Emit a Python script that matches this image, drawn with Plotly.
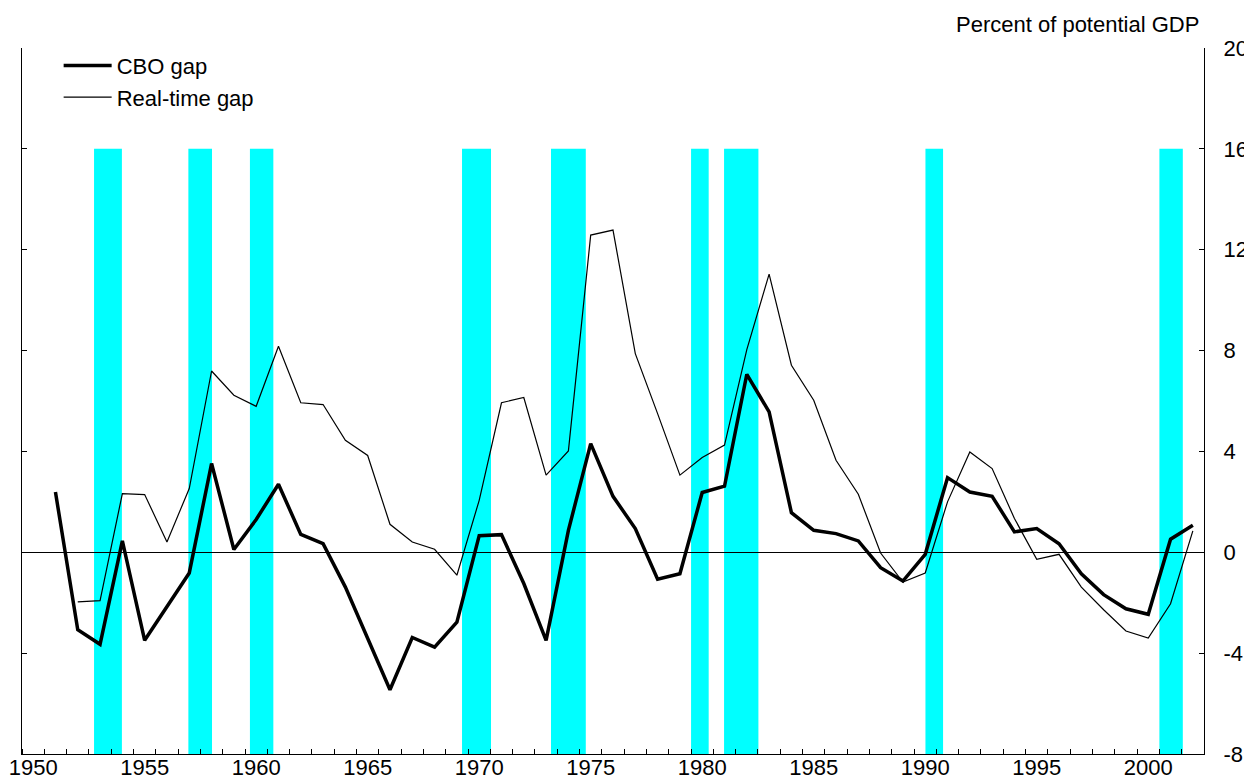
import plotly.graph_objects as go

# ---- data ----
cbo_years = list(range(1951, 2003))
cbo_gap = [2.39, -3.07, -3.65, 0.45, -3.49, -2.17, -0.82, 3.52, 0.11, 1.30,
           2.70, 0.71, 0.34, -1.38, -3.43, -5.45, -3.38, -3.76, -2.77, 0.66,
           0.70, -1.24, -3.49, 0.87, 4.31, 2.22, 0.94, -1.07, -0.85, 2.37,
           2.62, 7.06, 5.57, 1.57, 0.87, 0.74, 0.45, -0.61, -1.14, -0.08,
           2.96, 2.39, 2.22, 0.81, 0.94, 0.34, -0.85, -1.68, -2.24, -2.46,
           0.52, 1.07]

rt_years = list(range(1952, 2003))
rt_gap = [-1.97, -1.92, 2.33, 2.29, 0.41, 2.53, 7.19, 6.23, 5.79, 8.17,
          5.93, 5.86, 4.44, 3.84, 1.11, 0.41, 0.12, -0.91, 2.06, 5.93,
          6.14, 3.06, 4.02, 12.58, 12.78, 7.88, 5.50, 3.06, 3.76, 4.25,
          8.04, 11.03, 7.42, 6.03, 3.65, 2.30, -0.03, -1.18, -0.82, 2.00,
          3.98, 3.32, 1.34, -0.28, -0.08, -1.38, -2.28, -3.12, -3.40, -2.04,
          0.85]

recession_start = [1952.73, 1956.96, 1959.72, 1969.23, 1973.22, 1979.50, 1980.98, 1990.01, 2000.50]
recession_end = [1953.98, 1958.02, 1960.77, 1970.53, 1974.78, 1980.29, 1982.52, 1990.80, 2001.55]
recession_top = 16

x_tick_years = list(range(1950, 2001, 5))
y_ticks = [-8, -4, 0, 4, 8, 12, 16, 20]
y_tick_labels = ["-8", "-4", "0", "4", "8", "12", "16", "20"]

FONT = "Liberation Sans, Arial, sans-serif"

fig = go.Figure()

fig.add_trace(go.Scatter(x=cbo_years, y=cbo_gap, mode="lines", name="CBO gap",
                         line=dict(color="black", width=3.5)))
fig.add_trace(go.Scatter(x=rt_years, y=rt_gap, mode="lines", name="Real-time gap",
                         line=dict(color="black", width=1.2)))

for s, e in zip(recession_start, recession_end):
    fig.add_shape(type="rect", xref="x", yref="y", x0=s, x1=e, y0=-8, y1=recession_top,
                  fillcolor="#00FFFF", line=dict(width=0), layer="below")

fig.add_annotation(text="Percent of potential GDP", xref="paper", yref="paper",
                   x=0.9975, y=1.0326, xanchor="right", yanchor="middle",
                   showarrow=False, font=dict(size=22, color="black", family=FONT))

# page body has an 8px margin; the figure is sized so it ends at the window edge
fig.update_layout(
    width=1244, height=773,
    margin=dict(l=14, r=48, t=40, b=27),
    paper_bgcolor="white", plot_bgcolor="white",
    font=dict(family=FONT, size=22, color="black"),
    showlegend=True,
    legend=dict(x=0.031, y=1.0045, xanchor="left", yanchor="top", itemwidth=48,
                bgcolor="rgba(0,0,0,0)", font=dict(size=22), tracegroupgap=0),
    xaxis=dict(range=[1949.5, 2002.5], tickvals=x_tick_years, automargin=False,
               ticktext=[str(y) for y in x_tick_years], ticks="",
               showgrid=False, zeroline=False, showline=True, linecolor="black", linewidth=1,
               minor=dict(tick0=1949.5, dtick=1, ticks="inside", ticklen=5,
                          tickcolor="black", tickwidth=1, showgrid=False),
               ticklabelstandoff=-6, tickfont=dict(size=22)),
    yaxis=dict(range=[-8, 20], side="right", tickvals=y_ticks, ticktext=y_tick_labels,
               automargin=False,
               ticks="inside", ticklen=5, tickcolor="black", tickwidth=1,
               showgrid=False, zeroline=True, zerolinecolor="black", zerolinewidth=1,
               showline=True, linecolor="black", linewidth=1, mirror="ticks",
               ticklabelstandoff=14, tickfont=dict(size=22)),
)

fig.write_html("out.html")
